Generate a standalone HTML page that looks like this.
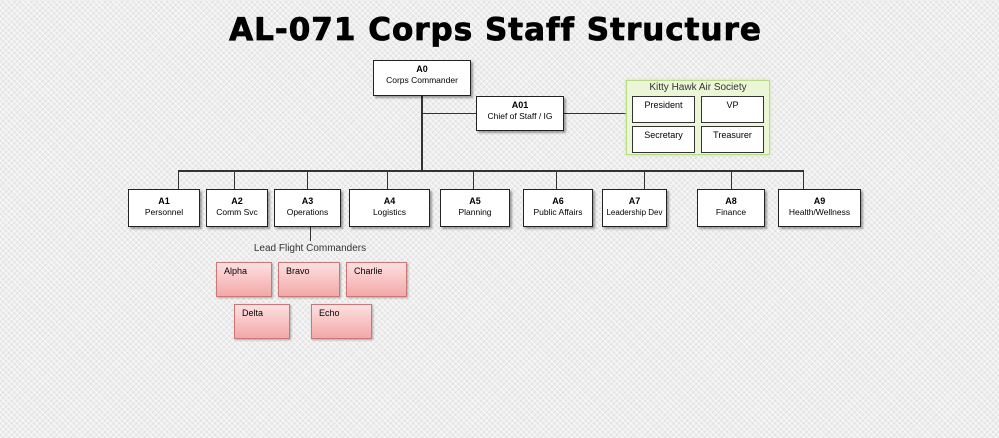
<!DOCTYPE html>
<html><head><style>
body{margin:0;width:999px;height:438px;overflow:hidden;font-family:"Liberation Sans",Arial,sans-serif;
background-color:#eeeeee;
background-image:repeating-linear-gradient(45deg,rgba(255,255,255,.7) 0 1px,transparent 1px 4px),repeating-linear-gradient(-45deg,rgba(200,200,200,.4) 0 1px,transparent 1px 4px);}
.a{position:absolute;box-sizing:border-box}
.b{background:#fff;border:1px solid #222;box-shadow:2px 2px 2px rgba(0,0,0,.35);text-align:center;font-size:8.5px;line-height:11px;padding-top:6px;white-space:nowrap}
.b b{display:block;font-size:9px}
.l{position:absolute;background:#333}
.p{background:linear-gradient(#fde0e0,#f3a8a8);border:1px solid #c77;box-shadow:1px 1px 2px rgba(0,0,0,.3);font-size:9px;padding:3px 0 0 7px}
.k{background:#fff;border:1px solid #333;font-size:9px;text-align:center;padding-top:3px}
</style></head><body>
<div class="a" style="left:-4px;top:12px;width:999px;text-align:center;font-size:31px;font-weight:900;font-family:'DejaVu Sans','Liberation Sans',sans-serif;letter-spacing:1px;-webkit-text-stroke:0.8px #000">AL-071 Corps Staff Structure</div>
<div class="l" style="left:421px;top:95px;width:1.5px;height:76px"></div>
<div class="l" style="left:422px;top:113px;width:54px;height:1px"></div>
<div class="l" style="left:564px;top:113px;width:62px;height:1px"></div>
<div class="l" style="left:178px;top:170px;width:626px;height:1.5px"></div>
<div class="l" style="left:178px;top:170px;width:1px;height:19px"></div>
<div class="l" style="left:234px;top:170px;width:1px;height:19px"></div>
<div class="l" style="left:307px;top:170px;width:1px;height:19px"></div>
<div class="l" style="left:387px;top:170px;width:1px;height:19px"></div>
<div class="l" style="left:473px;top:170px;width:1px;height:19px"></div>
<div class="l" style="left:556px;top:170px;width:1px;height:19px"></div>
<div class="l" style="left:644px;top:170px;width:1px;height:19px"></div>
<div class="l" style="left:731px;top:170px;width:1px;height:19px"></div>
<div class="l" style="left:803px;top:170px;width:1px;height:19px"></div>
<div class="l" style="left:310px;top:227px;width:1px;height:14px"></div>
<div class="a b" style="left:373px;top:60px;width:98px;height:36px;padding-top:3px"><b>A0</b>Corps Commander</div>
<div class="a b" style="left:476px;top:96px;width:88px;height:35px;padding-top:3px"><b>A01</b>Chief of Staff / IG</div>
<div class="a" style="left:626px;top:80px;width:144px;height:75px;background:#eaf6d6;border:1px solid #b8dc8a;box-shadow:0 0 3px #c6e59c"></div>
<div class="a" style="left:626px;top:82px;width:144px;text-align:center;font-size:10px;color:#333">Kitty Hawk Air Society</div>
<div class="a k" style="left:632px;top:96px;width:63px;height:27px">President</div>
<div class="a k" style="left:701px;top:96px;width:63px;height:27px">VP</div>
<div class="a k" style="left:632px;top:126px;width:63px;height:27px">Secretary</div>
<div class="a k" style="left:701px;top:126px;width:63px;height:27px">Treasurer</div>
<div class="a b" style="left:128px;top:189px;width:72px;height:38px"><b>A1</b>Personnel</div>
<div class="a b" style="left:206px;top:189px;width:62px;height:38px"><b>A2</b>Comm Svc</div>
<div class="a b" style="left:274px;top:189px;width:67px;height:38px"><b>A3</b>Operations</div>
<div class="a b" style="left:349px;top:189px;width:81px;height:38px"><b>A4</b>Logistics</div>
<div class="a b" style="left:440px;top:189px;width:70px;height:38px"><b>A5</b>Planning</div>
<div class="a b" style="left:523px;top:189px;width:70px;height:38px"><b>A6</b>Public Affairs</div>
<div class="a b" style="left:602px;top:189px;width:65px;height:38px;font-size:8px"><b>A7</b>Leadership Dev</div>
<div class="a b" style="left:697px;top:189px;width:68px;height:38px"><b>A8</b>Finance</div>
<div class="a b" style="left:778px;top:189px;width:83px;height:38px"><b>A9</b>Health/Wellness</div>
<div class="a" style="left:230px;top:243px;width:160px;text-align:center;font-size:10px;color:#333">Lead Flight Commanders</div>
<div class="a p" style="left:216px;top:262px;width:56px;height:35px">Alpha</div>
<div class="a p" style="left:278px;top:262px;width:62px;height:35px">Bravo</div>
<div class="a p" style="left:346px;top:262px;width:61px;height:35px">Charlie</div>
<div class="a p" style="left:234px;top:304px;width:56px;height:35px">Delta</div>
<div class="a p" style="left:311px;top:304px;width:61px;height:35px">Echo</div>
</body></html>
